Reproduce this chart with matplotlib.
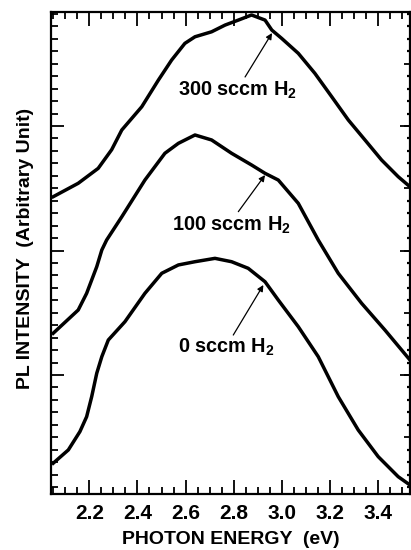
import matplotlib
matplotlib.use("Agg")
import matplotlib.pyplot as plt
from matplotlib.ticker import MultipleLocator, FixedLocator, NullFormatter

plt.rcParams['font.family'] = ['Liberation Sans', 'DejaVu Sans']
plt.rcParams['font.weight'] = 'bold'
plt.rcParams['mathtext.fontset'] = 'custom'
plt.rcParams['mathtext.bf'] = 'Liberation Sans:bold'
plt.rcParams['mathtext.rm'] = 'Liberation Sans:bold'

# Data (photon energy in eV, PL intensity in arbitrary units, offset curves)
x_300 = [2.050, 2.154, 2.237, 2.293, 2.335, 2.418, 2.487, 2.542, 2.597,
         2.639, 2.708, 2.764, 2.819, 2.874, 2.930, 2.958, 2.999, 3.068, 3.137,
         3.207, 3.276, 3.345, 3.414, 3.483, 3.532]
y_300 = [2.432, 2.540, 2.660, 2.810, 2.968, 3.155, 3.369, 3.530, 3.664,
         3.717, 3.757, 3.811, 3.851, 3.892, 3.851, 3.771, 3.704, 3.584, 3.423,
         3.235, 3.048, 2.888, 2.727, 2.593, 2.512]

x_100 = [2.050, 2.154, 2.189, 2.231, 2.252, 2.272, 2.335, 2.431, 2.514, 2.570,
         2.639, 2.708, 2.791, 2.874, 2.930, 2.985, 3.068, 3.151, 3.234, 3.331,
         3.428, 3.532]
y_100 = [1.335, 1.522, 1.656, 1.870, 2.004, 2.084, 2.271, 2.566, 2.781, 2.861,
         2.928, 2.888, 2.781, 2.687, 2.620, 2.566, 2.379, 2.084, 1.817, 1.576,
         1.361, 1.120]

x_0 = [2.050, 2.113, 2.161, 2.189, 2.210, 2.231, 2.252, 2.279, 2.348, 2.431,
       2.501, 2.570, 2.639, 2.722, 2.791, 2.860, 2.930, 2.985, 3.068, 3.151,
       3.234, 3.317, 3.400, 3.483, 3.532]
y_0 = [0.291, 0.398, 0.545, 0.665, 0.826, 1.014, 1.147, 1.281, 1.428, 1.656,
       1.817, 1.884, 1.910, 1.937, 1.910, 1.857, 1.749, 1.602, 1.388, 1.147,
       0.826, 0.558, 0.344, 0.183, 0.116]

labels = [r"300 sccm H$_\mathbf{2}$", r"100 sccm H$_\mathbf{2}$", r"0 sccm H$_\mathbf{2}$"]
label_pos = [(2.815, 3.289), (2.789, 2.205), (2.768, 1.225)]
arrow_tail = [(2.847, 3.394), (2.819, 2.312), (2.798, 1.321)]
arrow_head = [(2.959, 3.747), (2.930, 2.606), (2.923, 1.723)]

xticks = [2.2, 2.4, 2.6, 2.8, 3.0, 3.2, 3.4]
xticklabels = ["2.2", "2.4", "2.6", "2.8", "3.0", "3.2", "3.4"]

fig = plt.figure(figsize=(4.11, 5.5), dpi=100)
ax = fig.add_axes([51/411, 1-494/550, (410-51)/411, (494-12)/550])

for xs, ys in [(x_300, y_300), (x_100, y_100), (x_0, y_0)]:
    ax.plot(xs, ys, color='black', lw=2.5, solid_joinstyle='round')

for lab, pos, t, h in zip(labels, label_pos, arrow_tail, arrow_head):
    ax.text(pos[0], pos[1], lab, ha='center', va='center', fontsize=14.3, fontweight='bold')
    ax.annotate('', xy=h, xytext=t,
                arrowprops=dict(arrowstyle='-|>', lw=0.9, color='black',
                                mutation_scale=9, shrinkA=0, shrinkB=0))

ax.set_xlim(2.041, 3.532)
ax.set_ylim(0.044, 3.916)

ax.xaxis.set_major_locator(FixedLocator(xticks))
ax.set_xticklabels(xticklabels, fontsize=15, fontweight='bold')
ax.xaxis.set_minor_locator(MultipleLocator(0.05))
ax.yaxis.set_major_locator(MultipleLocator(1.0))
ax.yaxis.set_minor_locator(MultipleLocator(0.1))
ax.yaxis.set_major_formatter(NullFormatter())

ax.tick_params(axis='x', which='both', direction='in', top=True, bottom=True, width=1.3, pad=7)
ax.tick_params(axis='x', which='major', length=10)
ax.tick_params(axis='x', which='minor', length=5)
ax.tick_params(axis='y', which='both', direction='in', left=True, right=False, width=1.3)
ax.tick_params(axis='y', which='major', length=9)
ax.tick_params(axis='y', which='minor', length=5)

for s in ax.spines.values():
    s.set_linewidth(1.6)

# right-side ticks
ax2 = ax.twinx()
ax2.set_ylim(ax.get_ylim())
ax2.yaxis.set_major_locator(MultipleLocator(0.5))
ax2.yaxis.set_minor_locator(MultipleLocator(0.1))
ax2.yaxis.set_major_formatter(NullFormatter())
ax2.tick_params(axis='y', which='major', direction='in', length=4.5, width=1.3)
ax2.tick_params(axis='y', which='minor', direction='in', length=2, width=1.6)
ax3 = ax.twinx()
ax3.set_ylim(ax.get_ylim())
ax3.yaxis.set_major_locator(MultipleLocator(1.0))
ax3.yaxis.set_minor_locator(FixedLocator([]))
ax3.yaxis.set_major_formatter(NullFormatter())
ax3.tick_params(axis='y', which='major', direction='in', length=7, width=1.3)
for a in (ax2, ax3):
    for s in a.spines.values():
        s.set_visible(False)

ax.set_xlabel("PHOTON ENERGY  (eV)", fontsize=14, fontweight='bold', labelpad=6)
fig.text(26/411, 1-248/550, "PL INTENSITY  (Arbitrary Unit)", rotation=90,
         ha='center', va='center', fontsize=14, fontweight='bold')

fig.savefig("out.png", dpi=100)
